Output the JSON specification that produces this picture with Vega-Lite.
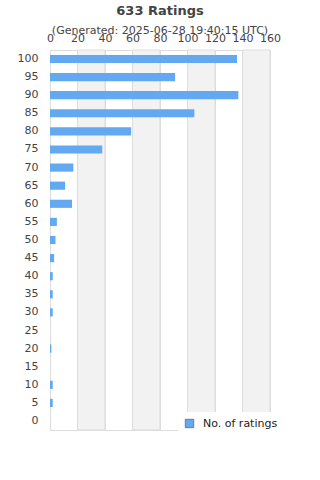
{
  "$schema": "https://vega.github.io/schema/vega-lite/v6.json",
  "width": 220,
  "height": 380,
  "autosize": {"type": "none"},
  "padding": {"left": 50, "top": 50, "right": 50, "bottom": 50},
  "background": "white",
  "title": {
    "text": "633 Ratings",
    "subtitle": "(Generated: 2025-06-28 19:40:15 UTC)",
    "anchor": "middle",
    "font": "DejaVu Sans",
    "fontSize": 13,
    "fontWeight": "bold",
    "color": "#444444",
    "subtitleFont": "DejaVu Sans",
    "subtitleFontSize": 11,
    "subtitleColor": "#444444",
    "subtitlePadding": 7,
    "offset": -4
  },
  "config": {
    "view": {"stroke": "#dddddd", "strokeWidth": 1},
    "axis": {
      "labelFont": "DejaVu Sans",
      "labelFontSize": 11,
      "labelColor": "#444444",
      "domain": false,
      "ticks": false,
      "title": null
    }
  },
  "datasets": {
    "ratings": [
      {"rating": "100", "count": 136},
      {"rating": "95", "count": 91},
      {"rating": "90", "count": 137},
      {"rating": "85", "count": 105},
      {"rating": "80", "count": 59},
      {"rating": "75", "count": 38},
      {"rating": "70", "count": 17},
      {"rating": "65", "count": 11},
      {"rating": "60", "count": 16},
      {"rating": "55", "count": 5},
      {"rating": "50", "count": 4},
      {"rating": "45", "count": 3},
      {"rating": "40", "count": 2},
      {"rating": "35", "count": 2},
      {"rating": "30", "count": 2},
      {"rating": "25", "count": 0},
      {"rating": "20", "count": 1},
      {"rating": "15", "count": 0},
      {"rating": "10", "count": 2},
      {"rating": "5", "count": 2},
      {"rating": "0", "count": 0}
    ],
    "bands": [
      {"start": 20, "end": 40},
      {"start": 60, "end": 80},
      {"start": 100, "end": 120},
      {"start": 140, "end": 160}
    ]
  },
  "layer": [
    {
      "data": {"name": "bands"},
      "mark": {"type": "rect", "color": "#f2f2f2", "stroke": "#dddddd", "strokeWidth": 1},
      "encoding": {
        "x": {
          "field": "start", "type": "quantitative",
          "scale": {"domain": [0, 160], "nice": false},
          "axis": {"orient": "top", "values": [0,20,40,60,80,100,120,140,160], "grid": true, "gridColor": "#dddddd", "labelPadding": 7, "labelOverlap": false, "labelBound": false, "labelFlush": false}
        },
        "x2": {"field": "end"}
      }
    },
    {
      "data": {"name": "ratings"},
      "mark": {"type": "bar"},
      "encoding": {
        "y": {
          "field": "rating",
          "type": "nominal",
          "sort": ["100","95","90","85","80","75","70","65","60","55","50","45","40","35","30","25","20","15","10","5","0"],
          "scale": {"paddingInner": 0.55, "paddingOuter": 0.27},
          "axis": {"labelPadding": 12, "grid": false}
        },
        "x": {
          "field": "count",
          "type": "quantitative",
          "scale": {"domain": [0, 160], "nice": false},
          "axis": {"orient": "top", "values": [0,20,40,60,80,100,120,140,160], "grid": true, "gridColor": "#dddddd", "labelPadding": 7, "labelOverlap": false, "labelBound": false, "labelFlush": false}
        },
        "color": {
          "datum": "No. of ratings",
          "scale": {"range": ["#63a9f1"]},
          "legend": {
            "title": null,
            "orient": "none",
            "legendX": 128,
            "legendY": 362,
            "fillColor": "white",
            "padding": 6,
            "symbolType": "square",
            "symbolSize": 70,
            "symbolStrokeColor": "#777777",
            "symbolStrokeWidth": 1,
            "labelFont": "DejaVu Sans",
            "labelFontSize": 11,
            "labelColor": "#222222",
            "labelOffset": 8
          }
        }
      }
    }
  ]
}
